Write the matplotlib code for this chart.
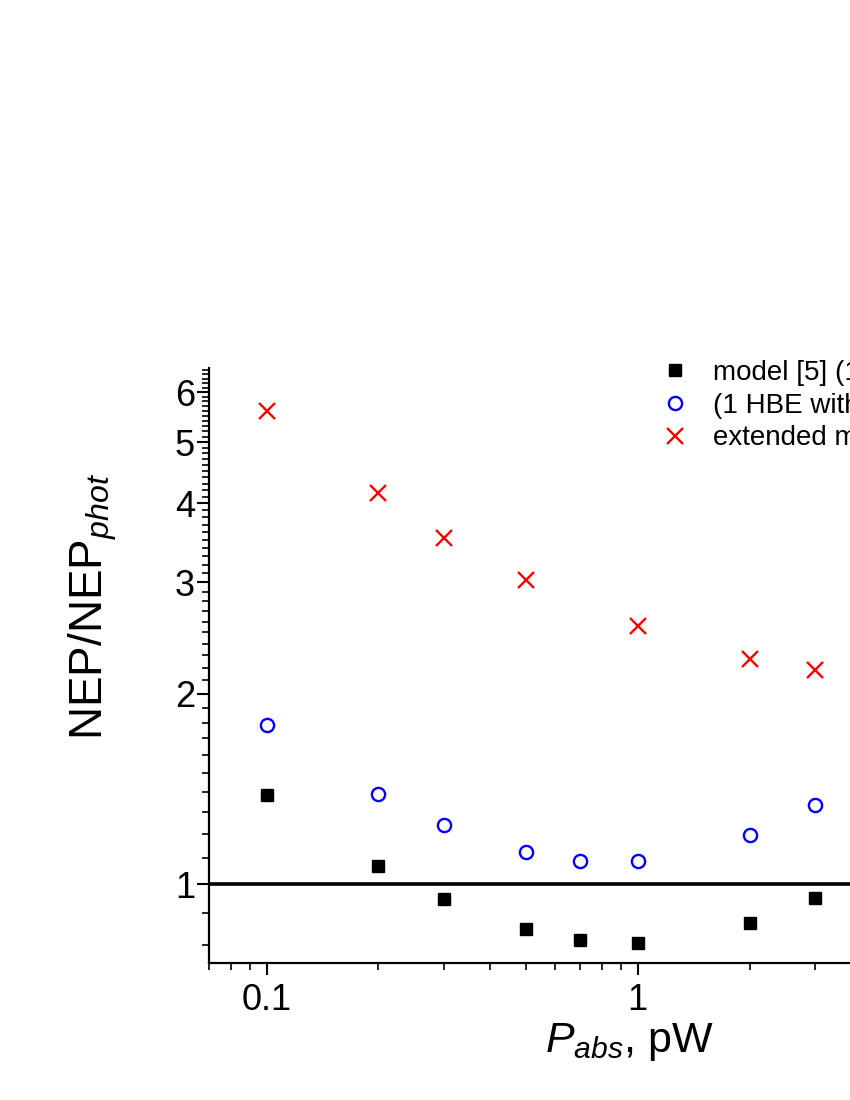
import matplotlib
matplotlib.use("Agg")
import matplotlib.pyplot as plt
import numpy as np
from matplotlib.ticker import FixedLocator, NullFormatter


plt.rcParams['font.family'] = ['Liberation Sans', 'DejaVu Sans']
plt.rcParams['mathtext.fontset'] = 'custom'
plt.rcParams['mathtext.rm'] = 'Liberation Sans'
plt.rcParams['mathtext.it'] = 'Liberation Sans:italic'

# data
p_abs = [0.1, 0.2, 0.3, 0.5, 0.7, 1.0, 2.0, 3.0]
nep_model5 = [1.384, 1.069, 0.948, 0.850, 0.816, 0.807, 0.869, 0.951]
nep_hbe = [1.787, 1.390, 1.241, 1.125, 1.089, 1.089, 1.197, 1.335]

p_abs_ext = [0.1, 0.2, 0.3, 0.5, 1.0, 2.0, 3.0]
nep_ext = [5.61, 4.16, 3.53, 3.03, 2.56, 2.27, 2.18]

labels = ['model [5] (1 HBE)', '(1 HBE with losses)', 'extended model']

fig = plt.figure(figsize=(8.5, 11), dpi=100)
# axes run past the right edge of the page, like the cropped original
ax = fig.add_axes([209 / 850, 137 / 1100, 800 / 850, 595 / 1100])

ax.set_xscale('log')
ax.set_yscale('log')
ax.set_xlim(0.07, 10)
ax.set_ylim(0.75, 6.55)

ax.axhline(1.0, color='black', lw=2.6, zorder=1)

ax.plot(p_abs, nep_model5, ls='none', marker='s', ms=9, color='black',
        mec='black', label=labels[0], zorder=3)
ax.plot(p_abs, nep_hbe, ls='none', marker='o', ms=9.5, mfc='none',
        mec='blue', mew=1.7, label=labels[1], zorder=3)
ax.plot(p_abs_ext, nep_ext, ls='none', marker='x', ms=11, color='red',
        mew=1.7, label=labels[2], zorder=3)

# ticks
ax.xaxis.set_major_locator(FixedLocator([0.1, 1, 10]))
ax.set_xticklabels(['0.1', '1', '10'])
xminor = [0.07, 0.08, 0.09] + [i / 10 for i in range(2, 10)] + list(range(2, 10))
ax.xaxis.set_minor_locator(FixedLocator(xminor))
ax.xaxis.set_minor_formatter(NullFormatter())

ax.yaxis.set_major_locator(FixedLocator([1, 2, 3, 4, 5, 6]))
ax.set_yticklabels(['1', '2', '3', '4', '5', '6'])
yminor = [0.8, 0.9] + [round(1 + i / 10, 1) for i in range(1, 56) if i % 10 != 0]
ax.yaxis.set_minor_locator(FixedLocator(yminor))
ax.yaxis.set_minor_formatter(NullFormatter())

ax.tick_params(which='major', direction='out', length=8.5, width=1.5,
               labelsize=26, pad=1.5)
ax.tick_params(axis='x', which='major', pad=6)
ax.tick_params(which='minor', direction='out', length=5, width=1.2)

ax.spines['top'].set_visible(False)
ax.spines['right'].set_visible(False)
ax.spines['left'].set_linewidth(1.6)
ax.spines['bottom'].set_linewidth(1.6)

ax.set_xlabel(r'$P_{abs}$, pW', fontsize=31)
ax.xaxis.set_label_coords(0.526, -0.097)
ax.set_ylabel(r'NEP/NEP$_{phot}$', fontsize=33)
ax.yaxis.set_label_coords(-0.113, 0.6)

fig.legend(loc='upper left', bbox_to_anchor=(647 / 850, 1 - 360 / 1100),
           frameon=False, fontsize=20, borderpad=0, borderaxespad=0,
           handlelength=2.0, handletextpad=0.37, labelspacing=0.24)

fig.savefig('out.png', dpi=100)
